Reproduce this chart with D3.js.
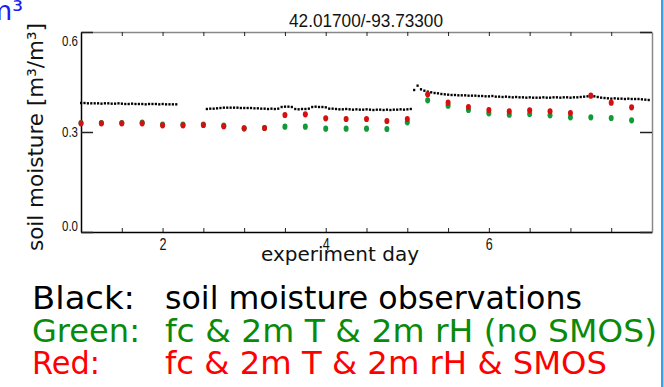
<!DOCTYPE html>
<html>
<head>
<meta charset="utf-8">
<script src="https://cdn.jsdelivr.net/npm/d3@7"></script>
<style>
  body { margin: 0; background: #fff; }
  svg { display: block; }
</style>
</head>
<body>
<svg id="chart" width="664" height="387"></svg>
<script>
// hourly soil moisture observations, starting at day 1.0 (null = missing)
const obsStartDay = 1;
const obsValues = [
  0.387,0.387,0.386,0.386,0.386,0.386,0.385,0.386,0.386,0.385,0.385,0.386,0.385,0.384,0.384,0.385,
  0.384,0.384,0.384,0.383,0.384,0.384,0.384,0.383,0.384,0.383,0.383,0.383,0.383,
  null,null,null,null,null,null,null,null,
  0.369,0.370,0.370,0.371,
  0.372,0.373,0.373,0.373,0.373,0.373,0.372,0.372,0.372,0.372,0.371,0.371,
  0.370,0.370,0.369,0.370,0.369,0.370,
  0.375,0.376,0.376,0.375,
  0.369,0.368,0.369,0.369,0.370,
  0.375,0.376,0.375,0.375,0.374,
  0.370,0.370,0.369,0.368,0.368,0.369,0.368,0.367,0.368,0.367,0.367,0.368,0.367,0.366,0.367,0.367,
  0.366,0.367,0.366,0.367,0.367,0.368,0.367,0.368,0.369,
  0.426,0.439,0.428,0.424,0.421,0.419,0.417,0.416,0.414,0.413,0.412,0.411,0.411,0.410,0.410,0.410,
  0.409,0.409,0.409,0.408,
  0.408,0.407,0.407,0.408,0.406,0.406,0.405,0.406,0.405,0.404,0.405,0.404,0.404,0.403,0.404,0.403,0.403,
  0.403,0.404,0.403,0.403,0.404,0.404,0.403,0.404,0.404,0.403,0.404,0.404,0.405,0.406,0.407,
  0.408,0.407,0.405,0.403,0.402,
  0.401,0.400,0.401,0.400,0.400,0.399,0.400,0.399,0.399,0.399,0.398,0.397,0.396
];

// 6-hourly analyses
const anaDays = [1, 1.25, 1.5, 1.75, 2, 2.25, 2.5, 2.75, 3, 3.25, 3.5, 3.75, 4, 4.25,
                 4.5, 4.75, 5, 5.25, 5.5, 5.75, 6, 6.25, 6.5, 6.75, 7, 7.25, 7.5, 7.75];
const greenValues = [0.327, 0.327, 0.327, 0.328, 0.322, 0.322, 0.322, 0.319, 0.311, 0.312, 0.316, 0.316, 0.310, 0.310,
                     0.310, 0.309, 0.329, 0.395, 0.379, 0.366, 0.356, 0.352, 0.354, 0.350, 0.344, 0.344, 0.342, 0.335];
const redValues = [0.326, 0.326, 0.326, 0.326, 0.320, 0.320, 0.321, 0.317, 0.311, 0.312, 0.351, 0.353, 0.341, 0.339,
                   0.339, 0.333, 0.339, 0.413, 0.388, 0.375, 0.366, 0.362, 0.365, 0.362, 0.357, 0.409, 0.388, 0.374];

const xTicks = [1.5, 2, 2.5, 3, 3.5, 4, 4.5, 5, 5.5, 6, 6.5, 7, 7.5];
const xLabels = [2, 4, 6];
const yTicks = [0, 0.3, 0.6];

const legendRows = [
  { key: 'Black:', text: 'soil moisture observations', color: '#000000', keyW: 103, textW: 417 },
  { key: 'Green:', text: 'fc & 2m T & 2m rH (no SMOS)', color: '#0a8a0a', keyW: 108, textW: 492 },
  { key: 'Red:', text: 'fc & 2m T & 2m rH & SMOS', color: '#ff0000', keyW: 68, textW: 442 }
];

const plot = { left: 81, right: 652, top: 32, bottom: 232 };
const tickFont = '"Liberation Sans Narrow", "Liberation Sans", Arial, sans-serif';
const textFont = '"DejaVu Sans", Verdana, sans-serif';

const svg = d3.select('#chart');

const x = d3.scaleLinear().domain([1, 8]).range([plot.left, plot.right]);
const y = d3.scaleLinear().domain([0, 0.6]).range([plot.bottom, plot.top]);

// slide decorations: cut-off blue text and blue frame line on the right
svg.append('text')
  .attr('x', -14).attr('y', 20)
  .attr('font-family', textFont).attr('font-size', 27)
  .attr('fill', '#1c1cf0')
  .text('m³');

svg.append('rect')
  .attr('x', 661).attr('y', 0).attr('width', 2.5).attr('height', 387)
  .attr('fill', '#3a9ee4');

// axes
const gBottom = svg.append('g')
  .attr('transform', `translate(0,${plot.bottom})`)
  .call(d3.axisBottom(x).tickValues(xTicks).tickSize(-4).tickSizeOuter(0).tickPadding(6)
    .tickFormat(d => xLabels.includes(d) ? d : ''));
gBottom.select('.domain').attr('stroke', '#000').attr('stroke-width', 1.5);
gBottom.selectAll('.tick line').attr('stroke', '#222');
gBottom.selectAll('.tick text')
  .attr('font-family', tickFont).attr('font-size', 17).attr('fill', '#111')
  .each(function (d) { if (xLabels.includes(d)) d3.select(this).attr('textLength', 7).attr('lengthAdjust', 'spacingAndGlyphs'); });

const gTop = svg.append('g')
  .attr('transform', `translate(0,${plot.top})`)
  .call(d3.axisTop(x).tickValues(xTicks).tickSize(-4).tickSizeOuter(0).tickFormat(''));
gTop.select('.domain').attr('stroke', '#888').attr('stroke-width', 1.5);
gTop.selectAll('.tick line').attr('stroke', '#222');

const gLeft = svg.append('g')
  .attr('transform', `translate(${plot.left},0)`)
  .call(d3.axisLeft(y).tickValues(yTicks).tickSize(-12).tickSizeOuter(0).tickPadding(3)
    .tickFormat(d3.format('.1f')));
gLeft.select('.domain').attr('stroke', '#000').attr('stroke-width', 1.5);
gLeft.selectAll('.tick line').attr('stroke', '#222').attr('stroke-width', 1.5);
gLeft.selectAll('.tick text')
  .attr('font-family', tickFont).attr('font-size', 14.5).attr('fill', '#111')
  .attr('textLength', 16).attr('lengthAdjust', 'spacingAndGlyphs')
  .attr('dy', d => d === 0.6 ? '0.95em' : (d === 0 ? '-0.1em' : '0.32em'));

const gRight = svg.append('g')
  .attr('transform', `translate(${plot.right},0)`)
  .call(d3.axisRight(y).tickValues(yTicks).tickSize(-12).tickSizeOuter(0).tickFormat(''));
gRight.select('.domain').attr('stroke', '#888').attr('stroke-width', 1.5);
gRight.selectAll('.tick line').attr('stroke', '#222').attr('stroke-width', 1.5);

svg.selectAll('.domain').attr('fill', 'none');

// title
svg.append('text')
  .attr('x', 366).attr('y', 27)
  .attr('text-anchor', 'middle')
  .attr('font-family', tickFont).attr('font-size', 18).attr('fill', '#111')
  .attr('textLength', 154).attr('lengthAdjust', 'spacingAndGlyphs')
  .text('42.01700/-93.73300');

// axis titles
svg.append('text')
  .attr('x', 340).attr('y', 261)
  .attr('text-anchor', 'middle')
  .attr('font-family', textFont).attr('font-size', 20).attr('fill', '#111')
  .text('experiment day');

svg.append('text')
  .attr('transform', 'translate(43,137) rotate(-90)')
  .attr('text-anchor', 'middle')
  .attr('font-family', textFont).attr('font-size', 21.5).attr('fill', '#111')
  .text('soil moisture [m³/m³]');

// observations
const obs = obsValues
  .map((v, i) => ({ day: obsStartDay + i / 24, value: v }))
  .filter(d => d.value !== null);

svg.append('g')
  .selectAll('rect')
  .data(obs)
  .enter()
  .append('rect')
    .attr('x', d => x(d.day) - 1)
    .attr('y', d => y(d.value) - 1.2)
    .attr('width', 2.2)
    .attr('height', 2.4)
    .attr('fill', '#000');

// analyses
function drawDots(values, color) {
  svg.append('g')
    .selectAll('ellipse')
    .data(anaDays.map((d, i) => ({ day: d, value: values[i] })))
    .enter()
    .append('ellipse')
      .attr('cx', d => x(d.day))
      .attr('cy', d => y(d.value))
      .attr('rx', 2.5)
      .attr('ry', 3.1)
      .attr('fill', color);
}
drawDots(greenValues, '#129a3a');
drawDots(redValues, '#d41010');

// legend text
const legend = svg.append('g');
legendRows.forEach((r, i) => {
  const yy = 309 + i * 32.5;
  legend.append('text')
    .attr('x', 32).attr('y', yy)
    .attr('font-family', textFont).attr('font-size', 31.5).attr('fill', r.color)
    .attr('textLength', r.keyW).attr('lengthAdjust', 'spacingAndGlyphs')
    .text(r.key);
  legend.append('text')
    .attr('x', 165).attr('y', yy)
    .attr('font-family', textFont).attr('font-size', 31.5).attr('fill', r.color)
    .attr('textLength', r.textW).attr('lengthAdjust', 'spacingAndGlyphs')
    .text(r.text);
});
</script>
</body>
</html>
